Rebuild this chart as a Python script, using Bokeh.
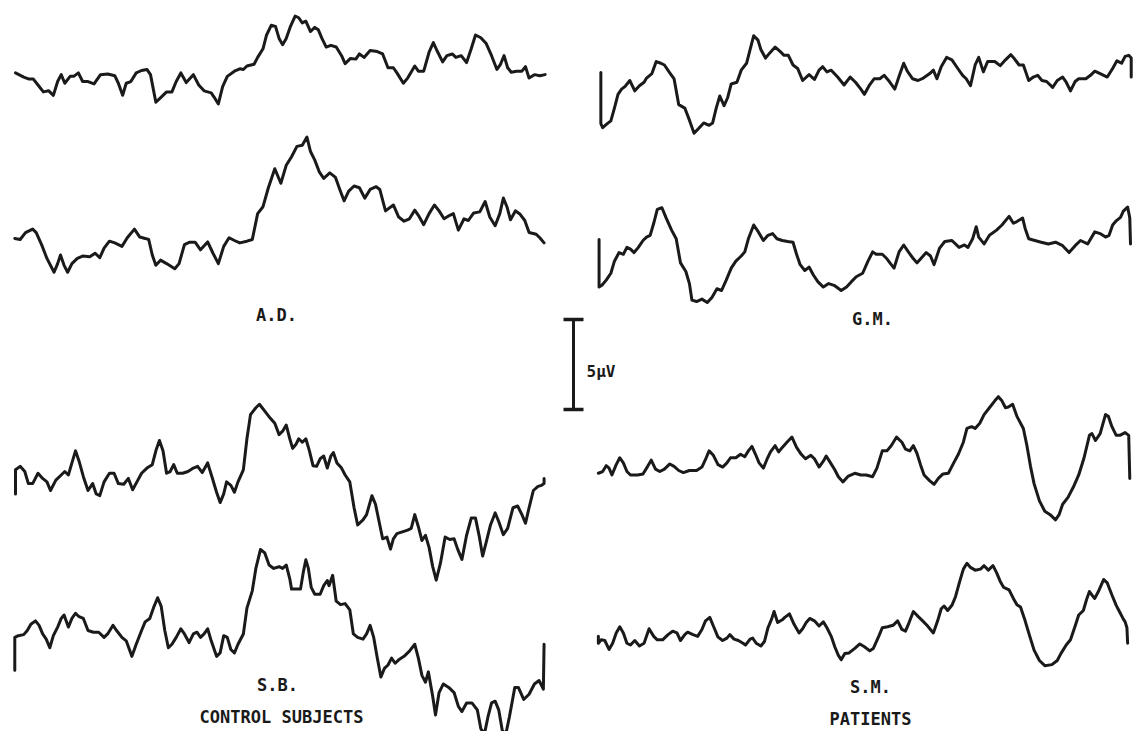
from bokeh.plotting import figure
from bokeh.models import Range1d
from bokeh.core.properties import value
from bokeh.embed import file_html
from bokeh.resources import INLINE

# ---- digitized averaged evoked responses (raw digitizer units: t = sweep, v = deflection, down positive) ----
ad_1 = [(42,210),(65,222),(80,228),(92,228),(105,245),(120,265),(135,262),(148,275),(160,235),(170,215),
        (180,240),(195,220),(205,220),(218,210),(230,235),(245,235),(262,242),(280,215),(300,213),(320,218),
        (330,240),(342,275),(352,240),(365,235),(380,210),(395,203),(410,200),(420,215),(435,295),(450,280),
        (465,265),(480,265),(492,235),(505,210),(520,238),(540,215),(555,245),(570,262),(590,268),(598,280),
        (610,300),(622,250),(635,220),(655,205),(670,198),(680,200),(690,190),(710,185),(720,165),(735,140),
        (745,100),(758,72),(770,75),(780,110),(790,128),(800,110),(812,75),(825,45),(835,50),(845,65),
        (855,60),(868,90),(880,78),(890,85),(900,110),(912,135),(925,130),(940,135),(955,160),(965,183),
        (980,168),(995,170),(1005,155),(1018,165),(1035,145),(1055,148),(1070,155),(1085,195),(1100,195),(1110,210),
        (1128,240),(1140,225),(1160,190),(1170,205),(1185,205),(1200,150),(1212,122),(1222,145),(1238,178),(1250,160),
        (1265,155),(1275,165),(1290,160),(1305,180),(1318,140),(1330,100),(1345,108),(1360,125),(1375,160),(1390,200),
        (1400,185),(1410,160),(1420,195),(1430,208),(1445,205),(1460,205),(1470,192),(1480,225),(1495,215),(1510,218),
        (1525,215)]
ad_2 = [(40,342),(55,345),(70,325),(90,315),(100,325),(115,360),(130,400),(150,440),(160,415),(168,390),
        (178,420),(188,440),(200,415),(215,400),(230,393),(250,395),(265,385),(278,398),(290,370),(305,350),
        (320,355),(340,365),(355,340),(375,315),(390,338),(405,342),(415,345),(425,390),(435,420),(448,405),
        (465,415),(488,430),(500,415),(515,360),(530,353),(545,353),(560,375),(580,352),(595,385),(610,415),
        (625,365),(640,340),(655,348),(670,355),(690,350),(705,345),(720,270),(735,250),(750,195),(768,140),
        (785,182),(800,130),(815,105),(830,75),(845,72),(858,48),(868,90),(880,115),(893,150),(905,168),
        (922,152),(938,165),(950,200),(962,233),(975,205),(990,190),(1005,195),(1020,225),(1035,200),(1052,192),
        (1062,200),(1078,262),(1100,245),(1115,280),(1130,292),(1145,285),(1160,260),(1170,275),(1185,302),(1200,270),
        (1215,245),(1228,262),(1242,285),(1258,275),(1268,270),(1282,318),(1298,285),(1310,290),(1325,268),(1342,265),
        (1357,235),(1370,280),(1385,305),(1398,270),(1408,225),(1418,250),(1428,288),(1442,262),(1455,272),(1468,290),
        (1480,325),(1500,330),(1510,340),(1522,355)]
gm_1 = [(57,122),(57,270),(62,282),(75,270),(85,262),(95,225),(105,185),(115,170),(125,162),(138,145),
        (152,175),(165,160),(178,150),(185,138),(200,125),(212,90),(225,95),(235,100),(248,120),(262,140),
        (275,215),(292,225),(305,260),(318,298),(330,285),(345,268),(360,275),(370,268),(380,225),(390,190),
        (402,218),(412,195),(422,155),(438,150),(450,115),(465,95),(475,55),(485,15),(497,28),(505,55),
        (518,80),(530,65),(545,48),(558,60),(570,72),(582,72),(595,100),(608,110),(622,145),(640,128),
        (655,142),(668,115),(678,105),(690,120),(702,115),(720,135),(738,158),(755,135),(770,150),(785,170),
        (795,185),(808,160),(822,140),(838,140),(850,130),(865,148),(880,170),(893,130),(905,95),(915,118),
        (930,140),(945,145),(960,138),(978,125),(988,115),(998,140),(1010,105),(1025,78),(1040,85),(1055,108),
        (1070,130),(1080,140),(1092,160),(1105,100),(1115,78),(1128,120),(1140,90),(1160,90),(1175,102),(1190,85),
        (1205,70),(1215,82),(1228,100),(1240,100),(1255,145),(1268,135),(1280,130),(1292,145),(1305,148),(1322,165),
        (1335,145),(1350,135),(1360,150),(1372,175),(1385,148),(1395,140),(1415,140),(1428,130),(1440,118),(1455,125),
        (1475,135),(1490,110),(1502,88),(1515,95),(1525,75),(1535,72),(1542,80),(1542,135)]
gm_2 = [(52,142),(52,280),(60,275),(72,260),(85,240),(95,205),(108,180),(120,185),(130,165),(140,170),
        (150,180),(162,165),(175,145),(185,135),(195,130),(205,95),(215,55),(228,50),(240,80),(255,115),
        (268,140),(280,210),(295,235),(305,270),(312,318),(325,322),(340,315),(355,325),(368,310),(382,285),
        (395,290),(408,260),(422,225),(435,205),(450,190),(460,178),(470,140),(485,100),(498,120),(512,145),
        (525,130),(538,125),(550,140),(565,145),(580,148),(595,150),(605,185),(615,215),(628,232),(640,222),
        (652,245),(665,265),(680,280),(695,270),(710,275),(730,290),(745,280),(758,265),(772,250),(790,240),
        (805,205),(818,178),(828,185),(845,185),(858,198),(868,212),(878,225),(892,178),(905,158),(918,178),
        (930,195),(942,210),(955,195),(968,180),(980,190),(990,215),(1005,168),(1020,148),(1040,145),(1060,165),
        (1075,158),(1085,165),(1098,140),(1108,105),(1115,135),(1130,155),(1145,130),(1165,115),(1180,100),(1200,75),
        (1212,95),(1222,90),(1238,80),(1245,110),(1255,140),(1272,145),(1290,150),(1310,155),(1330,150),(1350,160),
        (1368,180),(1385,160),(1400,145),(1420,155),(1440,120),(1455,125),(1470,135),(1480,130),(1490,100),(1500,88),
        (1512,78),(1520,60),(1532,48),(1538,80),(1540,155)]
sb_1 = [(42,300),(42,230),(55,220),(68,235),(78,270),(90,270),(105,240),(118,255),(130,265),(140,290),
        (155,260),(170,245),(180,235),(190,245),(200,210),(210,175),(220,205),(232,250),(245,290),(258,270),
        (268,300),(278,305),(290,265),(305,240),(318,240),(330,270),(345,272),(358,255),(370,288),(382,265),
        (395,240),(410,225),(425,215),(435,175),(445,145),(455,175),(465,240),(475,235),(485,215),(495,240),
        (510,240),(525,235),(540,225),(552,220),(565,238),(580,210),(592,250),(605,295),(615,325),(625,300),
        (633,265),(645,275),(655,295),(665,265),(680,230),(690,140),(700,70),(715,50),(725,40),(740,60),
        (755,80),(768,95),(780,128),(790,118),(800,100),(810,140),(818,168),(828,155),(835,140),(845,150),
        (855,140),(865,175),(875,218),(885,220),(895,198),(905,190),(915,225),(925,190),(932,180),(942,210),
        (955,225),(965,245),(978,265),(990,340),(1000,390),(1015,375),(1025,360),(1040,305),(1050,330),(1060,380),
        (1070,430),(1082,425),(1092,460),(1100,430),(1110,415),(1125,410),(1140,405),(1150,400),(1160,360),(1170,395),
        (1180,435),(1190,420),(1200,455),(1210,510),(1220,550),(1232,500),(1245,425),(1258,432),(1270,430),(1280,460),
        (1292,490),(1305,420),(1318,370),(1330,370),(1340,420),(1350,480),(1360,440),(1372,390),(1385,355),(1395,380),
        (1408,418),(1420,400),(1435,340),(1448,335),(1460,360),(1470,385),(1480,340),(1492,290),(1505,278),(1515,275),
        (1522,270),(1522,255)]
sb_2 = [(40,405),(40,310),(50,305),(65,302),(75,290),(85,272),(98,262),(108,275),(118,300),(128,315),
        (138,340),(148,305),(160,280),(170,255),(178,245),(190,280),(200,255),(210,240),(220,250),(232,255),
        (245,290),(260,295),(275,295),(290,310),(300,300),(315,275),(325,290),(340,310),(352,320),(368,365),
        (380,330),(395,290),(405,265),(418,255),(430,220),(440,195),(450,220),(460,290),(470,340),(480,330),
        (492,310),(505,285),(515,300),(528,325),(540,300),(550,295),(560,310),(570,300),(580,285),(590,320),
        (605,365),(615,355),(625,305),(635,310),(645,345),(655,355),(665,330),(680,300),(690,225),(705,175),
        (715,110),(728,55),(740,65),(752,100),(765,110),(780,105),(790,110),(800,100),(810,140),(815,170),
        (828,170),(840,170),(848,120),(855,85),(862,110),(870,165),(880,185),(895,185),(905,160),(915,145),
        (920,160),(930,130),(940,205),(952,215),(965,212),(978,230),(988,300),(1000,310),(1015,315),(1025,300),
        (1035,275),(1045,310),(1055,370),(1065,425),(1075,400),(1085,390),(1095,370),(1105,385),(1115,375),(1130,365),
        (1145,350),(1160,330),(1170,370),(1180,420),(1190,440),(1198,410),(1210,480),(1218,535),(1228,470),(1240,445),
        (1255,455),(1270,470),(1282,510),(1292,525),(1305,500),(1320,500),(1335,520),(1345,575),(1355,590),(1365,540),
        (1375,500),(1385,495),(1395,520),(1405,580),(1415,590),(1425,540),(1440,455),(1450,455),(1465,490),(1480,475),
        (1495,445),(1508,435),(1520,460),(1522,330)]
sm_1 = [(50,240),(62,235),(72,218),(80,225),(88,245),(100,215),(110,195),(120,210),(130,235),(140,245),
        (160,245),(175,242),(188,220),(198,202),(210,228),(222,235),(235,228),(250,213),(262,220),(275,232),
        (288,238),(305,232),(325,232),(340,222),(350,200),(360,175),(372,188),(385,215),(398,222),(410,210),
        (420,195),(435,195),(448,185),(460,192),(470,175),(480,162),(490,185),(500,210),(512,225),(522,200),
        (532,178),(545,160),(555,178),(565,165),(578,150),(592,135),(605,165),(618,185),(630,198),(645,188),
        (655,198),(668,222),(680,205),(688,190),(700,210),(712,230),(722,250),(735,265),(750,248),(768,240),
        (785,245),(800,245),(818,250),(830,225),(845,175),(858,175),(870,160),(885,135),(900,150),(910,170),
        (922,175),(932,160),(942,182),(952,215),(962,245),(978,262),(990,272),(1002,255),(1015,242),(1030,240),
        (1045,210),(1058,185),(1072,150),(1082,110),(1095,105),(1105,110),(1118,95),(1130,70),(1145,50),(1160,30),
        (1170,18),(1180,30),(1190,50),(1198,48),(1210,40),(1222,75),(1240,110),(1250,160),(1260,220),(1270,270),
        (1285,320),(1300,350),(1315,360),(1330,375),(1340,360),(1350,330),(1365,310),(1380,280),(1395,245),(1410,195),
        (1425,130),(1432,125),(1442,145),(1455,125),(1470,70),(1478,75),(1488,105),(1500,130),(1510,130),(1525,122),
        (1535,130),(1538,255)]
sm_2 = [(50,220),(50,240),(58,230),(68,232),(80,258),(90,240),(100,210),(110,192),(120,210),(130,240),
        (140,245),(152,232),(165,248),(178,240),(192,198),(205,220),(215,230),(230,230),(245,215),(258,205),
        (270,210),(280,232),(292,215),(300,208),(315,215),(328,220),(340,200),(350,175),(362,165),(372,190),
        (385,222),(398,232),(410,225),(418,215),(430,228),(442,232),(455,240),(462,245),(475,228),(482,225),
        (492,240),(505,248),(515,235),(525,195),(535,170),(542,148),(552,180),(565,172),(572,165),(585,155),
        (598,185),(612,210),(622,198),(632,180),(642,168),(655,175),(668,190),(680,178),(690,195),(702,220),
        (712,250),(722,275),(730,288),(740,270),(752,268),(768,255),(782,242),(795,250),(810,262),(820,255),
        (835,220),(845,195),(860,192),(875,188),(888,175),(900,200),(910,205),(920,180),(932,148),(945,162),
        (958,175),(970,188),(988,210),(1000,175),(1010,140),(1018,132),(1028,145),(1040,130),(1050,105),(1062,60),
        (1072,25),(1082,8),(1092,20),(1105,28),(1120,25),(1130,15),(1142,28),(1155,15),(1165,35),(1175,60),
        (1185,78),(1200,85),(1212,110),(1222,128),(1232,135),(1245,175),(1258,220),(1270,260),(1285,290),(1300,305),
        (1320,302),(1335,290),(1345,270),(1360,245),(1372,230),(1385,190),(1395,158),(1408,145),(1418,110),(1425,90),
        (1432,100),(1440,110),(1450,90),(1465,55),(1475,65),(1488,100),(1500,130),(1510,150),(1520,170),(1525,178),
        (1530,195),(1532,240)]

subject_labels = ["A.D.", "G.M.", "S.B.", "S.M."]
group_labels = ["CONTROL SUBJECTS", "PATIENTS"]
calibration_uv = 5
calibration_text = "5\u00b5V"

# ---- layout (panel origins on the page, digitizer scale) ----
T_SCALE = 1 / 2.8
V_SCALE = 1 / 2.9
panels = [
    (ad_1, 0, 0), (ad_2, 0, 120),
    (gm_1, 580, 30), (gm_2, 580, 190),
    (sb_1, 0, 390), (sb_2, 0, 530),
    (sm_1, 580, 390), (sm_2, 580, 560),
]

p = figure(width=1141, height=731, output_backend="svg", toolbar_location=None,
           x_range=Range1d(0, 1141), y_range=Range1d(731, 0),
           min_border=0, background_fill_color="white", border_fill_color="white")
p.axis.visible = False
p.grid.visible = False
p.outline_line_color = None

ink = "#1a1a1a"
for data, ox, oy in panels:
    xs = [ox + t * T_SCALE for t, v in data]
    ys = [oy + v * V_SCALE for t, v in data]
    p.line(xs, ys, line_color=ink, line_width=3.0, line_join="round", line_cap="round")

# calibration bar
px_per_uv = 18.0
bar_x, bar_top = 573, 319
bar_bot = bar_top + calibration_uv * px_per_uv
p.segment(x0=[bar_x], y0=[bar_top], x1=[bar_x], y1=[bar_bot], line_color=ink, line_width=3)
p.segment(x0=[bar_x - 10, bar_x - 10], y0=[bar_top, bar_bot], x1=[bar_x + 10, bar_x + 10],
          y1=[bar_top, bar_bot], line_color=ink, line_width=3.5)

font = value("DejaVu Sans Mono")
p.text(x=[586], y=[371], text=[calibration_text], text_font=font,
       text_font_size="16px", text_font_style="bold", text_color=ink, text_align="left", text_baseline="middle")
p.text(x=[276, 872, 277, 870], y=[314, 318, 684, 686], text=subject_labels, text_font=font,
       text_font_size="17px", text_font_style="bold", text_color=ink, text_align="center", text_baseline="middle")
p.text(x=[281, 870], y=[716, 718], text=group_labels, text_font=font,
       text_font_size="17px", text_font_style="bold", text_color=ink, text_align="center", text_baseline="middle")

open("out.html", "w").write(file_html(p, INLINE))
